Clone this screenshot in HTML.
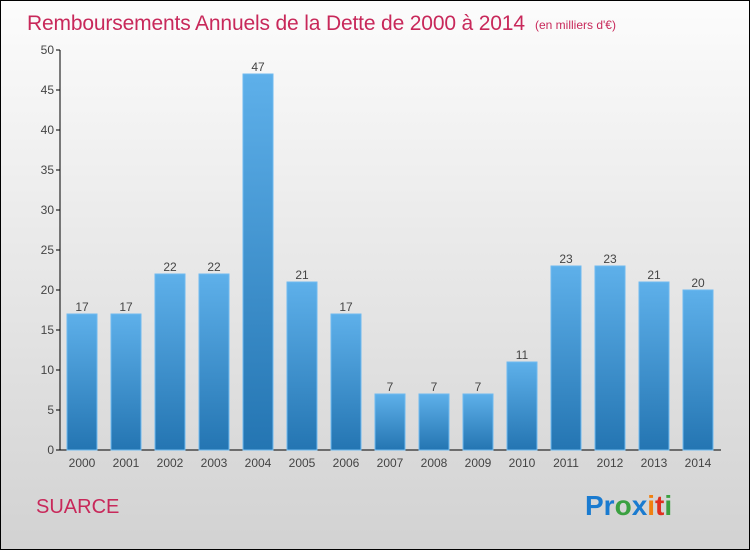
<!DOCTYPE html>
<html><head><meta charset="utf-8"><style>
body{margin:0;width:750px;height:550px;overflow:hidden;font-family:"Liberation Sans",sans-serif}
#wrap{position:absolute;left:0;top:0;width:748px;height:548px;border:1px solid #000;background:linear-gradient(#fcfcfc,#d2d2d2)}
</style></head><body>
<div id="wrap">
<svg width="748" height="548">
<defs><linearGradient id="bg" x1="0" y1="0" x2="0" y2="1"><stop offset="0" stop-color="#5eb0ea"/><stop offset="1" stop-color="#2475b2"/></linearGradient></defs>
<text x="26" y="29" font-size="21" fill="#c8285a" textLength="498">Remboursements Annuels de la Dette de 2000 à 2014</text>
<text x="534" y="28" font-size="12" fill="#c8285a">(en milliers d'€)</text>
<g id="axes"></g><g id="bars"></g>
<text x="35" y="512" font-size="20" fill="#c8285a">SUARCE</text>
<text x="584" y="514" font-size="28" font-weight="bold"><tspan fill="#1a7bd0">Pr</tspan><tspan fill="#3aa040">o</tspan><tspan fill="#1a7bd0">x</tspan><tspan fill="#f08010">i</tspan><tspan fill="#e03020">t</tspan><tspan fill="#3aa040">i</tspan></text>
</svg></div>
<script>
const years=["2000","2001","2002","2003","2004","2005","2006","2007","2008","2009","2010","2011","2012","2013","2014"];
const values=[17,17,22,22,47,21,17,7,7,7,11,23,23,21,20];
const yTicks=[0,5,10,15,20,25,30,35,40,45,50];
const NS="http://www.w3.org/2000/svg";
const y=v=>449-v*8, x=i=>81+i*44;
function mk(t,a,p){const e=document.createElementNS(NS,t);for(const k in a)e.setAttribute(k,a[k]);p.appendChild(e);return e;}
const ax=document.getElementById('axes'),bs=document.getElementById('bars');
const yl=mk('line',{x1:59,y1:49,x2:59,y2:449,stroke:'#000'},ax);


const xl=mk('line',{x1:59,y1:449,x2:720,y2:449,stroke:'#000'},ax);


yTicks.forEach(t=>{
 mk('line',{x1:55,y1:y(t),x2:59,y2:y(t),stroke:'#000'},ax);
 const tx=mk('text',{x:53,y:y(t)+4,'font-size':12,'text-anchor':'end',fill:'#444'},ax);tx.textContent=t;
 
 
});
years.forEach((yr,i)=>{
 const v=values[i];
 const r=mk('rect',{x:x(i)-15,y:y(v),width:30,height:v*8,fill:'url(#bg)',stroke:'#6fbaf0','stroke-width':1},bs);
 
 
 const l=mk('text',{x:x(i),y:y(v)-3,'font-size':12,'text-anchor':'middle',fill:'#444'},bs);l.textContent=v;
 
 
 const xt=mk('text',{x:x(i),y:466,'font-size':12,'text-anchor':'middle',fill:'#444'},ax);xt.textContent=yr;
 
 
});
</script></body></html>
